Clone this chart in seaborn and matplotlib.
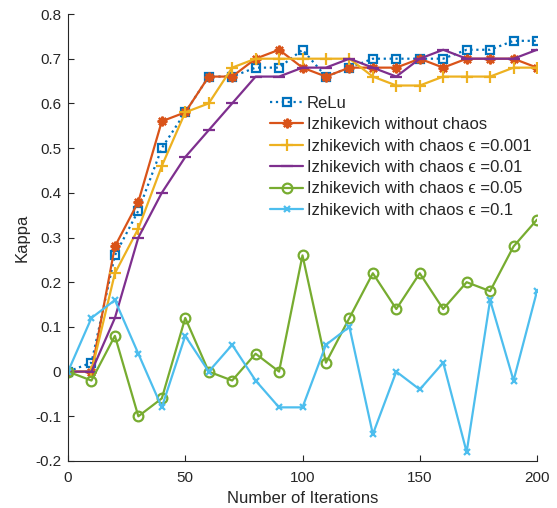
import matplotlib
matplotlib.use("Agg")
import matplotlib.pyplot as plt
import seaborn as sns
import numpy as np

iterations = [0, 10, 20, 30, 40, 50, 60, 70, 80, 90, 100, 110, 120, 130, 140, 150, 160, 170, 180, 190, 200]
relu = [0, 0.02, 0.26, 0.36, 0.50, 0.58, 0.66, 0.66, 0.68, 0.68, 0.72, 0.66, 0.68, 0.70, 0.70, 0.70, 0.70, 0.72, 0.72, 0.74, 0.74]
izh_no_chaos = [0, 0, 0.28, 0.38, 0.56, 0.58, 0.66, 0.66, 0.70, 0.72, 0.68, 0.66, 0.68, 0.68, 0.68, 0.70, 0.68, 0.70, 0.70, 0.70, 0.68]
izh_eps_0001 = [0, 0, 0.22, 0.32, 0.46, 0.58, 0.60, 0.68, 0.70, 0.70, 0.70, 0.70, 0.70, 0.66, 0.64, 0.64, 0.66, 0.66, 0.66, 0.68, 0.68]
izh_eps_001 = [0, 0, 0.12, 0.30, 0.40, 0.48, 0.54, 0.60, 0.66, 0.66, 0.68, 0.68, 0.70, 0.68, 0.66, 0.70, 0.72, 0.70, 0.70, 0.70, 0.72]
izh_eps_005 = [0, -0.02, 0.08, -0.10, -0.06, 0.12, 0, -0.02, 0.04, 0, 0.26, 0.02, 0.12, 0.22, 0.14, 0.22, 0.14, 0.20, 0.18, 0.28, 0.34]
izh_eps_01 = [0, 0.12, 0.16, 0.04, -0.08, 0.08, 0, 0.06, -0.02, -0.08, -0.08, 0.06, 0.10, -0.14, 0, -0.04, 0.02, -0.18, 0.16, -0.02, 0.18]

labels = ["ReLu",
          "Izhikevich without chaos",
          "Izhikevich with chaos \u03f5 =0.001",
          "Izhikevich with chaos \u03f5 =0.01",
          "Izhikevich with chaos \u03f5 =0.05",
          "Izhikevich with chaos \u03f5 =0.1"]
x_ticks = [0, 50, 100, 150, 200]
y_ticks = [-0.2, -0.1, 0, 0.1, 0.2, 0.3, 0.4, 0.5, 0.6, 0.7, 0.8]
y_tick_labels = ["-0.2", "-0.1", "0", "0.1", "0.2", "0.3", "0.4", "0.5", "0.6", "0.7", "0.8"]

sns.set_style("white")
plt.rcParams['font.family'] = ['Liberation Sans', 'DejaVu Sans']

fig = plt.figure(figsize=(5.57, 5.08), dpi=100)
ax = fig.add_axes([68/557, 1-461/508, (537-68)/557, (461-14)/508])

series = [relu, izh_no_chaos, izh_eps_0001, izh_eps_001, izh_eps_005, izh_eps_01]
colors = ["#0072BD", "#D95319", "#EDB120", "#7E2F8E", "#77AC30", "#4DBEEE"]
markers = ["s", (8, 2, 0), "+", "_", "o", "x"]
styles = [":", "-", "-", "-", "-", "-"]
msizes = [6, 7, 8, 8, 7, 5]
open_m = [True, False, False, False, True, False]

for ys, lab, c, m, ls, ms, op in zip(series, labels, colors, markers, styles, msizes, open_m):
    kw = dict(markerfacecolor='none') if op else {}
    sns.lineplot(x=iterations, y=ys, ax=ax, color=c, marker=m, linestyle=ls,
                 linewidth=1.6, markersize=ms, markeredgewidth=1.6,
                 markeredgecolor=c, label=lab, **kw)

ax.set_xlim(0, 200)
ax.set_ylim(-0.2, 0.8)
ax.set_xticks(x_ticks)
ax.set_yticks(y_ticks)
ax.set_yticklabels(y_tick_labels)
ax.tick_params(axis='both', direction='in', length=4, width=0.8, colors='#262626',
               labelsize=11, left=True, bottom=True)
ax.tick_params(axis='x', pad=7)
ax.tick_params(axis='y', pad=5)
for s in ['top', 'right']:
    ax.spines[s].set_visible(False)
for s in ['left', 'bottom']:
    ax.spines[s].set_color('#262626')
    ax.spines[s].set_linewidth(0.8)
ax.set_xlabel("Number of Iterations", fontsize=12, color='#262626', labelpad=4.5)
ax.set_ylabel("Kappa", fontsize=12, color='#262626', labelpad=4)

leg = ax.legend(loc='upper left', bbox_to_anchor=((270-68)/469, (461-96)/447), frameon=False,
                fontsize=12, handlelength=2.0, handletextpad=0.22, labelspacing=0.38,
                borderaxespad=0, borderpad=0)

fig.savefig("out.png", dpi=100)
